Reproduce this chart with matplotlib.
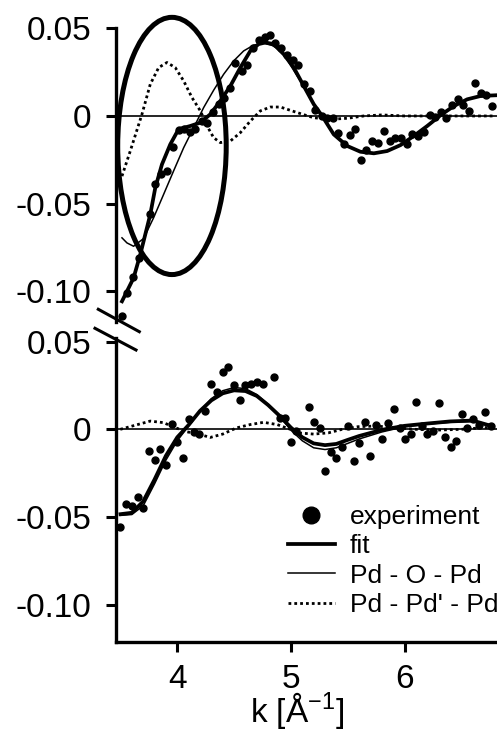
import matplotlib
matplotlib.use('Agg')
import matplotlib.pyplot as plt
from matplotlib.patches import Ellipse
from matplotlib.lines import Line2D

plt.rcParams['font.family'] = ['Liberation Sans', 'DejaVu Sans']
plt.rcParams['mathtext.fontset'] = 'custom'
plt.rcParams['mathtext.rm'] = 'Liberation Sans'
plt.rcParams['mathtext.it'] = 'Liberation Sans:italic'
plt.rcParams['mathtext.default'] = 'regular'

# ---------------- data: top panel ----------------
exp_top_k = [3.513, 3.556, 3.606, 3.659, 3.762, 3.806, 3.859, 3.909, 3.962, 4.011,
             4.056, 4.108, 4.159, 4.218, 4.262, 4.311, 4.364, 4.414, 4.467, 4.511,
             4.570, 4.614, 4.663, 4.716, 4.769, 4.813, 4.863, 4.916, 4.963, 5.016,
             5.063, 5.113, 5.166, 5.216, 5.275, 5.319, 5.372, 5.416, 5.466, 5.516,
             5.568, 5.619, 5.665, 5.715, 5.768, 5.818, 5.868, 5.915, 5.965, 6.018,
             6.068, 6.118, 6.171, 6.220, 6.267, 6.317, 6.367, 6.420, 6.470, 6.517,
             6.567, 6.620, 6.670, 6.720, 6.773]
exp_top_chi = [-0.1143, -0.1010, -0.0920, -0.0810, -0.0558, -0.0387, -0.0333, -0.0314, -0.0175, -0.0080,
               -0.0073, -0.0091, -0.0076, -0.0029, -0.0038, 0.0023, 0.0070, 0.0101, 0.0162, 0.0301,
               0.0257, 0.0290, 0.0390, 0.0434, 0.0453, 0.0461, 0.0416, 0.0387, 0.0350, 0.0318,
               0.0290, 0.0181, 0.0143, 0.0032, 0.0000, -0.0010, -0.0013, -0.0095, -0.0158, -0.0110,
               -0.0076, -0.0253, -0.0194, -0.0143, -0.0152, -0.0086, -0.0143, -0.0124, -0.0124, -0.0158,
               -0.0101, -0.0114, -0.0091, 0.0006, -0.0006, 0.0023, -0.0013, 0.0063, 0.0099, 0.0061,
               0.0029, 0.0190, 0.0130, 0.0120, 0.0057]

fit_top_k = [3.513, 3.615, 3.674, 3.762, 3.806, 3.865, 3.938, 4.011, 4.115, 4.203,
             4.291, 4.379, 4.467, 4.555, 4.643, 4.716, 4.775, 4.848, 4.937, 5.025,
             5.113, 5.201, 5.275, 5.377, 5.495, 5.612, 5.730, 5.847, 5.965, 6.082,
             6.200, 6.317, 6.435, 6.552, 6.670, 6.802]
fit_top_chi = [-0.1057, -0.0924, -0.0790, -0.0562, -0.0410, -0.0276, -0.0162, -0.0076, -0.0057, -0.0038,
               0.0010, 0.0086, 0.0171, 0.0276, 0.0371, 0.0410, 0.0419, 0.0410, 0.0352, 0.0276,
               0.0171, 0.0067, 0.0000, -0.0105, -0.0171, -0.0204, -0.0213, -0.0200, -0.0166, -0.0114,
               -0.0057, 0.0004, 0.0057, 0.0095, 0.0114, 0.0118]

pdo_top_k = [3.513, 3.557, 3.615, 3.703, 3.791, 3.879, 3.967, 4.056, 4.144, 4.232,
             4.320, 4.408, 4.496, 4.584, 4.672, 4.760, 4.848, 4.937, 5.054, 5.113,
             5.201, 5.275, 5.377, 5.495, 5.612, 5.730, 5.847, 5.965, 6.082, 6.200,
             6.317, 6.435, 6.552, 6.670, 6.802]
pdo_top_chi = [-0.0695, -0.0724, -0.0743, -0.0699, -0.0581, -0.0448, -0.0314, -0.0181, -0.0067, 0.0048,
               0.0147, 0.0238, 0.0314, 0.0371, 0.0404, 0.0415, 0.0400, 0.0352, 0.0229, 0.0171,
               0.0067, 0.0000, -0.0105, -0.0171, -0.0204, -0.0213, -0.0200, -0.0166, -0.0114, -0.0057,
               0.0004, 0.0057, 0.0095, 0.0114, 0.0118]

pdpd_top_k = [3.513, 3.586, 3.689, 3.762, 3.836, 3.909, 3.982, 4.056, 4.129, 4.203,
              4.262, 4.320, 4.379, 4.467, 4.555, 4.643, 4.731, 4.819, 4.907, 5.010,
              5.100, 5.200, 5.350, 5.500, 5.640, 5.800, 6.000, 6.200, 6.400, 6.600, 6.800]
pdpd_top_chi = [-0.0343, -0.0200, 0.0010, 0.0181, 0.0276, 0.0305, 0.0276, 0.0200, 0.0105, 0.0029,
                -0.0057, -0.0124, -0.0152, -0.0143, -0.0095, -0.0029, 0.0029, 0.0051, 0.0051, 0.0029,
                0.0010, -0.0010, -0.0019, -0.0013, 0.0000, 0.0006, 0.0000, 0.0000, 0.0000, 0.0000, 0.0000]

# ---------------- data: bottom panel ----------------
exp_bot_k = [3.498, 3.551, 3.601, 3.650, 3.698, 3.747, 3.800, 3.850, 3.903, 3.953,
             3.997, 4.050, 4.100, 4.150, 4.194, 4.247, 4.300, 4.349, 4.399, 4.446,
             4.502, 4.548, 4.599, 4.648, 4.701, 4.751, 4.848, 4.907, 4.952, 5.002,
             5.048, 5.157, 5.201, 5.254, 5.304, 5.354, 5.401, 5.451, 5.504, 5.553,
             5.603, 5.650, 5.700, 5.753, 5.803, 5.852, 5.905, 5.956, 6.003, 6.053,
             6.103, 6.150, 6.200, 6.249, 6.302, 6.352, 6.405, 6.456, 6.505, 6.553,
             6.602, 6.655, 6.705, 6.758]
exp_bot_chi = [-0.0556, -0.0423, -0.0436, -0.0388, -0.0447, -0.0124, -0.0175, -0.0112, -0.0204, 0.0029,
               -0.0074, -0.0165, 0.0059, -0.0014, -0.0029, 0.0104, 0.0258, 0.0215, 0.0329, 0.0357,
               0.0253, 0.0167, 0.0253, 0.0258, 0.0268, 0.0258, 0.0300, 0.0066, 0.0066, -0.0074,
               -0.0010, 0.0125, 0.0043, 0.0009, -0.0236, -0.0128, -0.0165, -0.0103, 0.0019, -0.0179,
               -0.0080, 0.0040, -0.0152, 0.0025, -0.0055, 0.0034, 0.0114, 0.0009, -0.0057, -0.0027,
               0.0154, 0.0021, -0.0027, -0.0008, 0.0148, -0.0046, -0.0103, -0.0065, 0.0087, 0.0006,
               0.0059, 0.0025, 0.0097, 0.0019]

fit_bot_k = [3.50, 3.60, 3.70, 3.80, 3.90, 4.00, 4.10, 4.20, 4.30, 4.40,
             4.50, 4.60, 4.70, 4.80, 4.90, 5.00, 5.10, 5.20, 5.30, 5.40,
             5.50, 5.60, 5.80, 6.00, 6.20, 6.40, 6.60, 6.76]
fit_bot_chi = [-0.0483, -0.0475, -0.0410, -0.0285, -0.0150, -0.0045, 0.0025, 0.0105, 0.0165, 0.0205,
               0.0222, 0.0218, 0.0190, 0.0138, 0.0077, 0.0010, -0.0045, -0.0080, -0.0090, -0.0083,
               -0.0060, -0.0038, -0.0003, 0.0020, 0.0033, 0.0045, 0.0050, 0.0020]

pdo_bot_k = [3.50, 3.60, 3.70, 3.80, 3.90, 4.00, 4.10, 4.20, 4.30, 4.40,
             4.50, 4.60, 4.70, 4.80, 4.90, 5.00, 5.10, 5.20, 5.30, 5.40,
             5.50, 5.60, 5.80, 6.00, 6.20, 6.40, 6.60, 6.76]
pdo_bot_chi = [-0.0490, -0.0485, -0.0435, -0.0310, -0.0175, -0.0065, 0.0020, 0.0105, 0.0175, 0.0220,
               0.0238, 0.0232, 0.0198, 0.0142, 0.0075, -0.0005, -0.0065, -0.0105, -0.0115, -0.0105,
               -0.0080, -0.0055, -0.0015, 0.0015, 0.0030, 0.0040, 0.0045, 0.0025]

pdpd_bot_k = [3.498, 3.762, 3.879, 3.980, 4.085, 4.203, 4.290, 4.400, 4.520, 4.640,
              4.760, 4.880, 4.995, 5.060, 5.200, 5.330, 5.450, 5.590, 5.750, 5.900,
              6.100, 6.300, 6.500, 6.700, 6.760]
pdpd_bot_chi = [0.0000, 0.0047, 0.0038, 0.0010, -0.0014, -0.0030, -0.0046, -0.0027, 0.0008, 0.0027,
                0.0040, 0.0027, 0.0000, -0.0020, -0.0027, -0.0020, 0.0000, 0.0015, 0.0019, 0.0010,
                0.0000, -0.0004, 0.0000, 0.0010, 0.0010]

yticks = [0.05, 0.0, -0.05, -0.10]
ytick_labels = ['0.05', '0', '-0.05', '-0.10']
xticks = [4, 5, 6]
xtick_labels = ['4', '5', '6']
labels = ['experiment', 'fit', 'Pd - O - Pd', "Pd - Pd' - Pd"]

# ---------------- figure ----------------
W, H = 497, 731
fig = plt.figure(figsize=(W / 100, H / 100), dpi=100)
left = 115.5 / W
width = 1 - left
ax1 = fig.add_axes([left, 1 - 322 / H, width, (322 - 28.3) / H])
ax2 = fig.add_axes([left, 1 - 641.7 / H, width, (641.7 - 338) / H])

XLIM = (3.456, 6.814)

def style(ax, ylim):
    ax.set_xlim(*XLIM)
    ax.set_ylim(*ylim)
    for s in ['top', 'right']:
        ax.spines[s].set_visible(False)
    ax.spines['left'].set_linewidth(2.4)
    ax.spines['bottom'].set_linewidth(2.4)
    ax.set_yticks(yticks)
    ax.set_yticklabels(ytick_labels)
    ax.tick_params(axis='both', direction='out', length=7.2, width=2.2,
                   labelsize=24, pad=10, colors='black')
    ax.axhline(0, color='black', lw=1.2, zorder=1)

fit_lw = 2.7
thin_lw = 1.1
dot_ls = (0, (1, 1.1))
dot_lw = 2.0
ms = 5.0

# top panel
style(ax1, (-0.1175, 0.05))
ax1.spines['bottom'].set_visible(False)
ax1.tick_params(axis='x', bottom=False, labelbottom=False)
ax1.plot(exp_top_k, exp_top_chi, 'o', color='black', ms=ms, zorder=4, clip_on=False)
ax1.plot(fit_top_k, fit_top_chi, '-', color='black', lw=fit_lw, zorder=3)
ax1.plot(pdo_top_k, pdo_top_chi, '-', color='black', lw=thin_lw, zorder=3)
ax1.plot(pdpd_top_k, pdpd_top_chi, color='black', lw=dot_lw, ls=dot_ls, zorder=2)
ax1.add_patch(Ellipse((3.953, -0.0171), 0.955, 0.1467, fill=False, lw=3.6,
                      ec='black', clip_on=False, zorder=5))

# bottom panel
style(ax2, (-0.1209, 0.052))
ax2.set_xticks(xticks)
ax2.set_xticklabels(xtick_labels)
ax2.tick_params(axis='x', pad=9)
h_exp, = ax2.plot(exp_bot_k, exp_bot_chi, 'o', color='black', ms=ms, zorder=4)
h_fit, = ax2.plot(fit_bot_k, fit_bot_chi, '-', color='black', lw=fit_lw, zorder=3)
h_pdo, = ax2.plot(pdo_bot_k, pdo_bot_chi, '-', color='black', lw=thin_lw, zorder=3)
h_pdpd, = ax2.plot(pdpd_bot_k, pdpd_bot_chi, color='black', lw=dot_lw, ls=dot_ls, zorder=2)

ax2.legend([h_exp, h_fit, h_pdo, h_pdpd], labels, loc='lower left',
           bbox_to_anchor=(288 / W, 1 - 617 / H), bbox_transform=fig.transFigure,
           frameon=False, fontsize=19, handlelength=1.78, handletextpad=0.57,
           labelspacing=0.2, borderpad=0, borderaxespad=0, markerscale=2.4)

# axis break marks
for (x0, y0, x1, y1) in [(98.3, 309.3, 139.3, 331.7), (95, 328.3, 136, 350)]:
    fig.add_artist(Line2D([x0 / W, x1 / W], [1 - y0 / H, 1 - y1 / H],
                          transform=fig.transFigure, color='black', lw=2.2))

fig.text(297.5 / W, 1 - 722 / H, r'k [Å$^{-1}$]', ha='center', va='baseline', fontsize=24)

fig.savefig('out.png', dpi=100)
